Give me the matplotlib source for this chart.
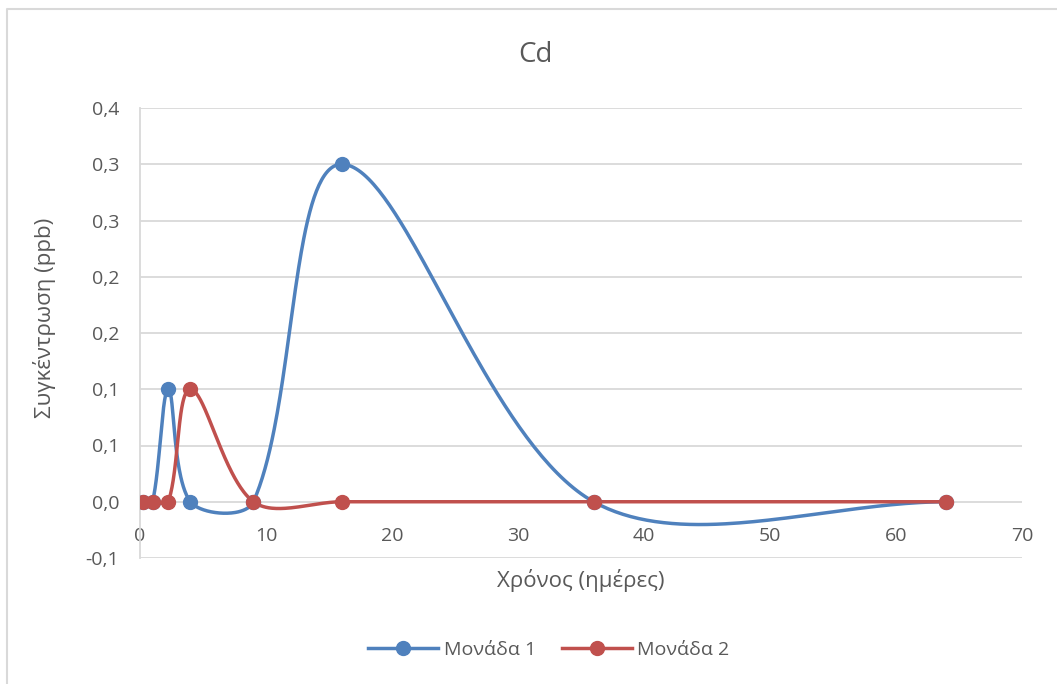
import numpy as np
import matplotlib
matplotlib.use('Agg')
import matplotlib.pyplot as plt
from matplotlib.lines import Line2D

plt.rcParams['font.family'] = ['Open Sans', 'DejaVu Sans']

# data
days = [0.25, 1, 2.25, 4, 9, 16, 36, 64]
unit1 = [0, 0, 0.1, 0, 0, 0.3, 0, 0]
unit2 = [0, 0, 0, 0.1, 0, 0, 0, 0]
series_names = ['Μονάδα 1', 'Μονάδα 2']

y_ticks = [-0.05, 0, 0.05, 0.1, 0.15, 0.2, 0.25, 0.3, 0.35]
y_labels = ['-0,1', '0,0', '0,1', '0,1', '0,2', '0,2', '0,3', '0,3', '0,4']
x_ticks = [0, 10, 20, 30, 40, 50, 60, 70]

blue = '#4F81BD'
red = '#C0504D'
txt = '#595959'
grid = '#D9D9D9'

W, H = 1057, 684
ax_w, ax_h = 882, 450
xmin, xmax, ymin, ymax = 0, 70, -0.05, 0.35


# Excel like smoothed line: bezier, control points scaled by segment lengths (in pixels)
def smooth(x, y, n=80):
    kx = ax_w / (xmax - xmin)
    ky = ax_h / (ymax - ymin)
    p = np.column_stack([np.array(x) * kx, np.array(y) * ky]).astype(float)
    out = []
    for i in range(len(p) - 1):
        p0 = p[i - 1] if i > 0 else p[i]
        p1 = p[i]
        p2 = p[i + 1]
        p3 = p[i + 2] if i + 2 < len(p) else p[i + 1]
        d01 = np.hypot(*(p1 - p0))
        d12 = np.hypot(*(p2 - p1))
        d23 = np.hypot(*(p3 - p2))
        c1 = p1 + (p2 - p0) / 3 * d12 / (d01 + d12)
        c2 = p2 - (p3 - p1) / 3 * d12 / (d12 + d23)
        t = np.linspace(0, 1, n)[:, None]
        seg = ((1 - t) ** 3) * p1 + 3 * ((1 - t) ** 2) * t * c1 + 3 * (1 - t) * t ** 2 * c2 + t ** 3 * p2
        out.append(seg)
    s = np.vstack(out)
    return s[:, 0] / kx, s[:, 1] / ky


fig = plt.figure(figsize=(W / 100, H / 100), dpi=100)
ax = fig.add_axes([140 / W, 1 - 558 / H, ax_w / W, ax_h / H])

for vals, col in [(unit1, blue), (unit2, red)]:
    sx, sy = smooth(days, vals)
    ax.plot(sx, sy, color=col, lw=2.5, solid_capstyle='round', zorder=3)
    ax.plot(days, vals, 'o', color=col, ms=10, zorder=4)

ax.set_xlim(xmin, xmax)
ax.set_ylim(ymin, ymax)
ax.set_yticks(y_ticks)
ax.set_yticklabels(y_labels)
ax.set_xticks(x_ticks)
ax.set_xticklabels([str(v) for v in x_ticks])

for v in y_ticks:
    ax.axhline(v, color=grid, lw=1.3, zorder=1)

for s in ['top', 'right', 'bottom']:
    ax.spines[s].set_visible(False)
ax.spines['left'].set_color(grid)
ax.spines['left'].set_linewidth(1.3)
ax.spines['bottom'].set_position(('data', 0))

ax.tick_params(axis='both', length=0, labelsize=14, colors=txt)
ax.tick_params(axis='y', pad=15)
ax.tick_params(axis='x', pad=18)

fig.text(535 / W, 1 - 55 / H, 'Cd', ha='center', va='center', fontsize=20, color=txt)
fig.text(45 / W, 1 - 318 / H, 'Συγκέντρωση (ppb)', rotation=90, ha='center', va='center',
         fontsize=16, color=txt)
fig.text(581 / W, 1 - 580 / H, 'Χρόνος (ημέρες)', ha='center', va='center', fontsize=16, color=txt)

handles = [Line2D([], [], color=blue, lw=2.5, marker='o', ms=10),
           Line2D([], [], color=red, lw=2.5, marker='o', ms=10)]
fig.legend(handles, series_names, loc='center', bbox_to_anchor=(549 / W, 1 - 650 / H), ncol=2,
           frameon=False, fontsize=14, labelcolor=txt, handlelength=3.6, handletextpad=0.3,
           columnspacing=1.3)

# chart border
fig.add_artist(Line2D([7 / W, 7 / W, 1], [0, 1 - 9 / H, 1 - 9 / H],
                      transform=fig.transFigure, color=grid, lw=1.5))

fig.savefig('out.png', dpi=100)
